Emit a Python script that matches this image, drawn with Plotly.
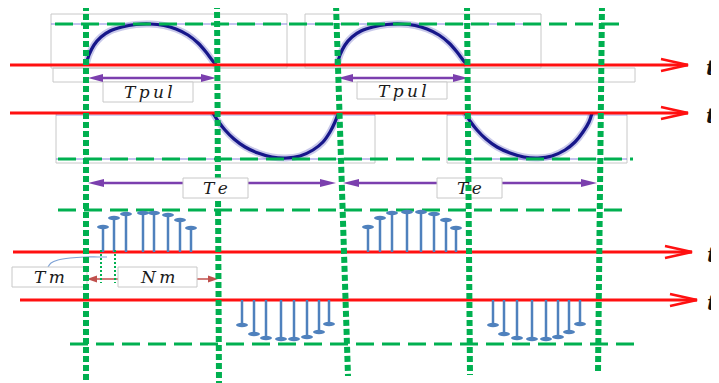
import plotly.graph_objects as go

W, H = 719, 383
PAGE_MARGIN = 8  # default body margin of the html page

# ── geometry (pixel units, y downwards) ────────────────────────────────────
# red time axes
axis_y = [65, 113, 252, 300]
axis_x0 = [10, 10, 13, 20]
axis_x1 = [688, 688, 692, 697]
axis_label = ["t", "t", "t", "t"]
axis_label_x = [718, 718, 721, 723]

# green dotted period markers (slightly slanted)
mark_x_top = [86, 217, 336, 467, 602]
mark_x_bot = [86, 219, 348, 470, 598]
mark_y_top = [5, 3, 5, 5, 5]
mark_y_bot = [380, 383, 376, 375, 373]

# green dashed amplitude levels
level_y = [24, 159, 210, 344]
level_x0 = [55, 58, 58, 70]
level_x1 = [627, 633, 630, 642]

# positive half-waves (top trace)
pos_wave1_x = [86, 89, 94, 101, 110, 122, 136, 150, 164, 176, 188, 198, 206, 212, 216]
pos_wave1_y = [65, 55, 45, 37, 31, 27, 24.5, 24, 25.5, 29, 35, 43, 52, 60, 65]
pos_wave2_x = [337, 340, 345, 352, 361, 373, 387, 401, 415, 427, 439, 449, 457, 463, 467]
pos_wave2_y = [65, 55, 45, 37, 31, 27, 24.5, 24, 25.5, 29, 35, 43, 52, 60, 65]

# negative half-waves (second trace)
neg_wave1_x = [213, 218, 225, 234, 245, 258, 272, 286, 300, 313, 323, 330, 335, 338]
neg_wave1_y = [113, 121, 130, 139, 147, 153, 157, 158, 156, 150, 142, 132, 122, 114]
neg_wave2_x = [465, 470, 477, 486, 497, 510, 524, 538, 552, 565, 575, 583, 589, 592]
neg_wave2_y = [113, 121, 130, 139, 147, 153, 157, 158, 156, 150, 142, 132, 122, 113]

# sampled values (stems)
pos_stem1_x = [103, 114, 126, 143, 154, 168, 180, 191]
pos_stem1_y = [227, 218, 214, 213, 213, 215, 220, 228]
pos_stem2_x = [368, 380, 392, 407, 421, 434, 446, 456]
pos_stem2_y = [227, 218, 213, 212, 212, 214, 220, 228]
neg_stem1_x = [242, 254, 266, 281, 294, 307, 319, 329]
neg_stem1_y = [325, 334, 338, 339, 339, 337, 332, 324]
neg_stem2_x = [493, 504, 517, 532, 546, 558, 569, 580]
neg_stem2_y = [325, 334, 338, 339, 339, 337, 332, 324]

# dimension arrows
tpul_x0 = [88, 338]
tpul_x1 = [216, 468]
tpul_y = 78
te_x0 = [88, 343]
te_x1 = [336, 597]
te_y = 183
nm_x0, nm_x1, nm_y = 87, 218, 279
tm_tick_x = [101, 115]
tm_tick_y = [250, 283]
tm_link_x = [48, 51, 58, 70, 85, 98, 107]
tm_link_y = [267, 263, 260, 258, 257, 257, 257]

# thin grey frames of the pasted waveform pictures
frame_x0 = [51, 305, 53, 56, 447]
frame_x1 = [287, 541, 635, 375, 627]
frame_y0 = [14, 14, 68, 113, 113]
frame_y1 = [68, 68, 82, 163, 163]

# label boxes
tpul_box = [(103, 82, 193, 102), (357, 82, 447, 99)]
te_box = [(183, 178, 248, 198), (437, 178, 502, 198)]
tm_box = (12, 267, 87, 287)
nm_box = (118, 267, 197, 287)

RED = "#ff1010"
GREEN = "#00b050"
PURPLE = "#7b3fae"
STEM = "#4f81bd"
WAVE = "#16168a"
GREY = "#c8c8c8"
BROWN = "#c0504d"

fig = go.Figure()


def line(xs, ys, color, width, dash=None, shape="linear"):
    fig.add_trace(go.Scatter(
        x=xs, y=ys, mode="lines",
        line=dict(color=color, width=width, dash=dash, shape=shape),
        hoverinfo="skip", showlegend=False))


def poly(xs, ys, fillcolor, color=None, width=0):
    fig.add_trace(go.Scatter(
        x=xs, y=ys, mode="lines", fill="toself", fillcolor=fillcolor,
        line=dict(color=color or fillcolor, width=width),
        hoverinfo="skip", showlegend=False))


def box(b, color=GREY):
    x0, y0, x1, y1 = b
    poly([x0, x1, x1, x0, x0], [y0, y0, y1, y1, y0], "white", color, 1)


def head(x, y, d, color, length, half):
    # filled triangle arrow head, tip at (x, y), d = +1 right / -1 left
    poly([x, x - d * length, x - d * length, x], [y, y - half, y + half, y], color)


# frames
for x0, x1, y0, y1 in zip(frame_x0, frame_x1, frame_y0, frame_y1):
    line([x0, x1, x1, x0, x0], [y0, y0, y1, y1, y0], GREY, 1)

# faint plot-axis remnants inside the frames
for x0, x1 in [(frame_x0[0], frame_x1[0]), (frame_x0[1], frame_x1[1])]:
    line([x0, x1], [level_y[0], level_y[0]], "rgba(110,110,215,0.55)", 1.5)
for x0, x1 in [(frame_x0[3], frame_x1[3]), (frame_x0[4], frame_x1[4])]:
    line([x0, x1], [level_y[1], level_y[1]], "rgba(110,110,215,0.55)", 1.5)
    line([x0, x1], [axis_y[1] + 2, axis_y[1] + 2], "rgba(110,110,215,0.45)", 1.5)

# waves (soft glow + core)
for wx, wy in [(pos_wave1_x, pos_wave1_y), (pos_wave2_x, pos_wave2_y),
               (neg_wave1_x, neg_wave1_y), (neg_wave2_x, neg_wave2_y)]:
    line(wx, wy, "rgba(40,40,170,0.25)", 7, shape="spline")
    line(wx, wy, WAVE, 3.2, shape="spline")

# red time axes with open chevrons
for y, x0, x1 in zip(axis_y, axis_x0, axis_x1):
    line([x0, x1], [y, y], RED, 3)
    line([x1 - 27, x1, x1 - 27], [y - 6, y, y + 6], RED, 2.5)

# green dashed levels
for y, x0, x1 in zip(level_y, level_x0, level_x1):
    line([x0, x1], [y, y], GREEN, 3, dash="18px,8px")

# Tpul and Te arrows
for x0, x1 in zip(tpul_x0, tpul_x1):
    line([x0 + 10, x1 - 10], [tpul_y, tpul_y], PURPLE, 2.5)
    head(x0, tpul_y, -1, PURPLE, 15, 4)
    head(x1, tpul_y, 1, PURPLE, 15, 4)
for x0, x1 in zip(te_x0, te_x1):
    line([x0 + 10, x1 - 10], [te_y, te_y], PURPLE, 2.5)
    head(x0, te_y, -1, PURPLE, 16, 4)
    head(x1, te_y, 1, PURPLE, 16, 4)

# stems
caps = []
for sx, sy, base in [(pos_stem1_x, pos_stem1_y, axis_y[2]), (pos_stem2_x, pos_stem2_y, axis_y[2]),
                     (neg_stem1_x, neg_stem1_y, axis_y[3]), (neg_stem2_x, neg_stem2_y, axis_y[3])]:
    for x, y in zip(sx, sy):
        line([x, x], [base, y], STEM, 2.5)
        caps.append(dict(type="circle", xref="x", yref="y", xsizemode="pixel", ysizemode="pixel",
                         xanchor=x, yanchor=y, x0=-6, x1=6, y0=-2.2, y1=2.2,
                         fillcolor=STEM, line=dict(width=0), layer="above"))

# Tm / Nm detail
line([nm_x0 + 8, nm_x1 - 8], [nm_y, nm_y], BROWN, 1.5)
head(nm_x0, nm_y, -1, BROWN, 10, 3.5)
head(nm_x1, nm_y, 1, BROWN, 10, 3.5)
for x in tm_tick_x:
    line([x, x], tm_tick_y, GREEN, 2, dash="2px,2px")
line(tm_link_x, tm_link_y, "#7fa3d6", 1.2, shape="spline")
box(tm_box)
box(nm_box)
for b in tpul_box:
    box(b)
box(te_box[1])

# green dotted period markers
for xt, xb, yt, yb in zip(mark_x_top, mark_x_bot, mark_y_top, mark_y_bot):
    line([xt, xb], [yt, yb], GREEN, 6, dash="6px,3px")

box(te_box[0])

# text
SERIF = "DejaVu Serif"
ann = []
for y, x, lab in zip(axis_y, axis_label_x, axis_label):
    ann.append(dict(x=min(x, W), y=y + 2, text="<b><i>" + lab + "</i></b>", xanchor="right",
                    yanchor="middle", font=dict(family=SERIF, size=21, color="#111111")))


def label(b, text, size=17):
    x0, y0, x1, y1 = b
    ann.append(dict(x=(x0 + x1) / 2, y=(y0 + y1) / 2, text="<i>" + text + "</i>",
                    xanchor="center", yanchor="middle",
                    font=dict(family=SERIF, size=size, color="#1a1a1a")))


sp = "\u2009"
for b in tpul_box:
    label(b, sp.join("Tpul"))
for b in te_box:
    label(b, sp.join("Te"))
label(tm_box, sp.join("Tm"))
label(nm_box, sp.join("Nm"))

for a in ann:
    a.update(xref="x", yref="y", showarrow=False)

# the page body keeps its default margin, so the figure is shrunk by it and
# the axis ranges start at the margin: data units stay window pixels
fig.update_layout(
    width=W - PAGE_MARGIN, height=H - PAGE_MARGIN,
    margin=dict(l=0, r=0, t=0, b=0),
    paper_bgcolor="white", plot_bgcolor="white",
    xaxis=dict(range=[PAGE_MARGIN, W], visible=False, fixedrange=True),
    yaxis=dict(range=[H, PAGE_MARGIN], visible=False, fixedrange=True),
    shapes=caps, annotations=ann,
    showlegend=False,
)

fig.write_html("out.html")
